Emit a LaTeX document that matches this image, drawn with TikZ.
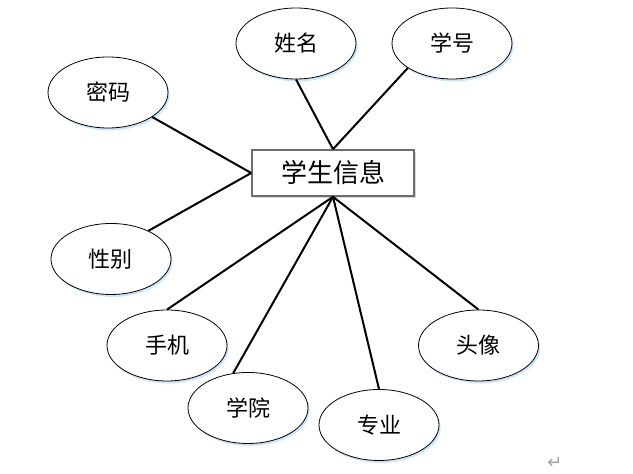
\documentclass[tikz,border=0pt]{standalone}
\usepackage{fontspec}
\newfontfamily\cjk{Noto Sans CJK SC}
\newfontfamily\symfont{DejaVu Sans}
\usetikzlibrary{shapes.geometric,shadows}

\begin{document}
\begin{tikzpicture}[x=0.5pt,y=-0.5pt,
    attr/.style={ellipse,draw,thin,fill=white,inner sep=0pt,
      minimum width=60pt,minimum height=35.5pt,
      font=\cjk\fontsize{11}{13}\selectfont,
      drop shadow={shadow xshift=0.8pt,shadow yshift=-1.2pt,fill=blue!50!cyan,opacity=0.2}},
    ent/.style={rectangle,draw=gray!85!black,line width=0.8pt,fill=white,
      minimum width=81pt,minimum height=23pt,
      font=\cjk\fontsize{13}{15}\selectfont,
      drop shadow={shadow xshift=0.8pt,shadow yshift=-1.2pt,fill=blue!30!gray,opacity=0.25}},
    link/.style={line width=1pt}]
  \useasboundingbox (0,0) rectangle (633,474);
  % entity
  \node[ent] (xs) at (333,173) {学生信息};
  % attributes
  \node[attr] (xm) at (296,43.5) {姓名};
  \node[attr] (xh) at (452,43.5) {学号};
  \node[attr] (mm) at (108,92.5) {密码};
  \node[attr] (xb) at (111,259) {性别};
  \node[attr] (sj) at (167,345.5) {手机};
  \node[attr] (xy) at (248,408) {学院};
  \node[attr] (zy) at (379,425) {专业};
  \node[attr] (tx) at (478.5,345.5) {头像};
  % links
  \draw[link] (xm.south) -- (xs.north);
  \draw[link] (xh.209) -- (xs.north);
  \draw[link] (mm.-29) -- (xs.west);
  \draw[link] (xb.37) -- (xs.west);
  \draw[link] (sj.north) -- (xs.south);
  \draw[link] (xy.113) -- (xs.south);
  \draw[link] (zy.north) -- (xs.south);
  \draw[link] (tx.north) -- (xs.south);
  \node[text=gray!70,font=\symfont\fontsize{9}{9}\selectfont] (ret) at (555,463) {↵};
\end{tikzpicture}
\end{document}
